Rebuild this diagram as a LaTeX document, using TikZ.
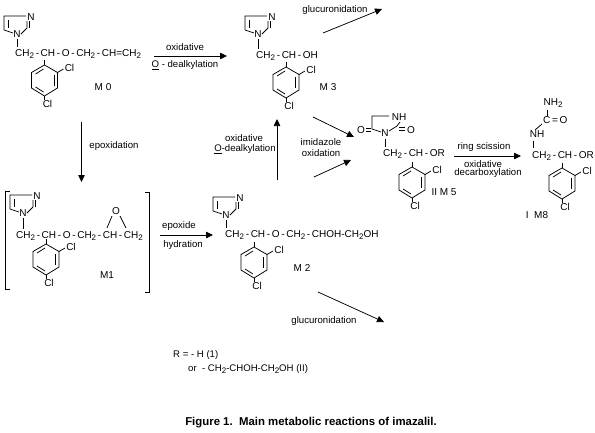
\documentclass[tikz,border=0pt]{standalone}
\usepackage{fontspec}
\setmainfont{Liberation Sans}
\usetikzlibrary{arrows.meta}
\newcommand{\subtwo}{\raisebox{-2.2pt}{\fontsize{8}{8}\selectfont 2}}
\tikzset{
    bond/.style={line width=0.75pt},
    chem/.style={inner sep=0pt, font=\fontsize{10}{12}\selectfont},
    chain/.style={chem, anchor=west},
    note/.style={inner sep=0pt, font=\fontsize{9.6}{12}\selectfont},
    rxn/.style={line width=0.75pt, -{Triangle[length=7pt,width=6.5pt]}},
    imidazole/.pic={
        \node[chem] (-n1) at (0,0) {N};
        \node[chem] (-n3) at (14,-17) {N};
        \draw[bond] (9,-18) -- (-13,-18) -- (-13,-4) -- (-4,-1);
        \draw[bond] (4,0) -- (10,-6) -- (10,-13);
        \draw[bond] (12.5,-6) -- (12.5,-13);
        \draw[bond] (-9,-14) -- (-9,-6);
    },
    phenyl/.pic={
        \node[chem] (-clb) at (25,3) {Cl};
        \node[chem] (-clc) at (3,39) {Cl};
        \draw[bond] (0,0) -- (13,7.5) -- (13,23) -- (0,31) -- (-13,23) -- (-13,7.5) -- cycle;
        \draw[bond] (0,-5) -- (0,0);
        \draw[bond] (13,7.5) -- (19,4);
        \draw[bond] (0,31) -- (0,35);
        \draw[bond] (9.5,10) -- (9.5,21);
        \draw[bond] (-9,9) -- (-1,4);
        \draw[bond] (-9,22) -- (-1,27);
    },
}
\begin{document}
\begin{tikzpicture}[x=1pt, y=-1pt]
    \useasboundingbox (0,0) rectangle (595,432);

    % M0
    \pic (mzeroimid) at (17,34) {imidazole};
    \draw[bond] (17,39) -- (17,47);
    \node[chain] (mzerochain) at (15,54) {CH\subtwo\,-\,CH\,-\,O\,-\,CH\subtwo\,-\,CH=CH\subtwo};
    \pic (mzeroring) at (44.5,65) {phenyl};
    \node[chem] (mzero) at (103,87) {M 0};

    % M3
    \pic (mthreeimid) at (258,34) {imidazole};
    \draw[bond] (258,39) -- (258,49);
    \node[chain] (mthreechain) at (256,56) {CH\subtwo\,-\,CH\,-\,OH};
    \pic (mthreering) at (286,67) {phenyl};
    \node[chem] (mthree) at (328,87) {M 3};

    % M1
    \pic (moneimid) at (23,213) {imidazole};
    \draw[bond] (23,218) -- (23,229);
    \node[chain] (monechain) at (16,236) {CH\subtwo\,-\,CH\,-\,O\,-\,CH\subtwo\,-\,CH\,-\,CH\subtwo};
    \pic (monering) at (46,244) {phenyl};
    \node[chem] (epoxo) at (116,211) {O};
    \draw[bond] (107,228) -- (112,216);
    \draw[bond] (120,216) -- (126,228);
    \node[chem] (mone) at (107,275) {M1};
    \draw[bond] (10,191) -- (5,191) -- (5,289) -- (10,289);
    \draw[bond] (145,192) -- (149,192) -- (149,292) -- (145,292);

    % M2
    \pic (mtwoimid) at (226,215) {imidazole};
    \draw[bond] (226,220) -- (226,228);
    \node[chain] (mtwochain) at (225,235) {CH\subtwo\,-\,CH\,-\,O\,-\,CH\subtwo\,-\,CHOH-CH\subtwo OH};
    \pic (mtworing) at (254,247) {phenyl};
    \node[chem] (mtwo) at (302,268) {M 2};

    % M5
    \node[chem] (mfiven) at (385,133) {N};
    \node[chem] (mfivenh) at (399,117) {NH};
    \node[chem] (mfiveol) at (361,130) {O};
    \node[chem] (mfiveor) at (411,130) {O};
    \draw[bond] (389,116) -- (372,116) -- (372,129) -- (381,132);
    \draw[bond] (366,128.5) -- (371,128.5);
    \draw[bond] (366,131) -- (371,131);
    \draw[bond] (389,131) -- (397,126) -- (400,122);
    \draw[bond] (399,127.5) -- (405,127.5);
    \draw[bond] (399,130) -- (405,130);
    \draw[bond] (385,139) -- (385,147);
    \node[chain] (mfivechain) at (383,154) {CH\subtwo\,-\,CH\,-\,OR};
    \pic (mfivering) at (412,167) {phenyl};
    \node[chem] (mfive) at (444,192) {II M 5};

    % M8
    \node[chem] (meightnh) at (553,103) {NH\subtwo};
    \draw[bond] (547,110) -- (547,116);
    \node[chain] (meightco) at (543,120) {C\,=\,O};
    \draw[bond] (542,124) -- (535,130);
    \node[chem] (meightn) at (537,134) {NH};
    \draw[bond] (533,141) -- (533,148);
    \node[chain] (meightchain) at (532,156) {CH\subtwo\,-\,CH\,-\,OR};
    \pic (meightring) at (562,168) {phenyl};
    \node[chem] (meight) at (537,215) {I\ \ M8};

    % reaction arrows
    \coordinate (oxa) at (154,56);
    \coordinate (oxb) at (227,56);
    \coordinate (epa) at (81.5,122);
    \coordinate (epb) at (81.5,182);
    \coordinate (hya) at (160,235);
    \coordinate (hyb) at (213,235);
    \coordinate (dea) at (277,180);
    \coordinate (deb) at (277,119);
    \coordinate (gla) at (323,33);
    \coordinate (glb) at (382,9);
    \coordinate (ima) at (313,117);
    \coordinate (imb) at (354,137);
    \coordinate (imc) at (314,177);
    \coordinate (imd) at (351,160);
    \coordinate (rsa) at (454,156);
    \coordinate (rsb) at (521,156);
    \coordinate (gma) at (318,292);
    \coordinate (gmb) at (384,322);
    \draw[rxn] (oxa) -- (oxb);
    \draw[rxn] (epa) -- (epb);
    \draw[rxn] (hya) -- (hyb);
    \draw[rxn] (dea) -- (deb);
    \draw[rxn] (gla) -- (glb);
    \draw[rxn] (ima) -- (imb);
    \draw[rxn] (imc) -- (imd);
    \draw[rxn] (rsa) -- (rsb);
    \draw[rxn] (gma) -- (gmb);

    % labels
    \node[note] (oxtop) at (185,47) {oxidative};
    \node[note] (oxbot) at (185,65) {\underline{O} - dealkylation};
    \node[note] (epox) at (114,146) {epoxidation};
    \node[note] (hytop) at (179,226) {epoxide};
    \node[note] (hybot) at (183,245) {hydration};
    \node[note] (detop) at (244,138) {oxidative};
    \node[note] (debot) at (245,149) {\underline{O}-dealkylation};
    \node[note] (gltop) at (335,10) {glucuronidation};
    \node[note] (imtop) at (321,142) {imidazole};
    \node[note] (imbot) at (321,153) {oxidation};
    \node[note] (rstop) at (484,147) {ring scission};
    \node[note] (rsmid) at (483,164) {oxidative};
    \node[note] (rsbot) at (488,173) {decarboxylation};
    \node[note] (glbot) at (324,321) {glucuronidation};

    \node[note, anchor=west] (rone) at (173,355) {R = - H (1)};
    \node[note, anchor=west] (rtwo) at (188,369) {or\ \ - CH\subtwo-CHOH-CH\subtwo OH (II)};
    \node[inner sep=0pt, font=\fontsize{11.4}{13}\selectfont\bfseries] (caption) at (311,423) {Figure 1.\ \ Main metabolic reactions of imazalil.};
\end{tikzpicture}
\end{document}
